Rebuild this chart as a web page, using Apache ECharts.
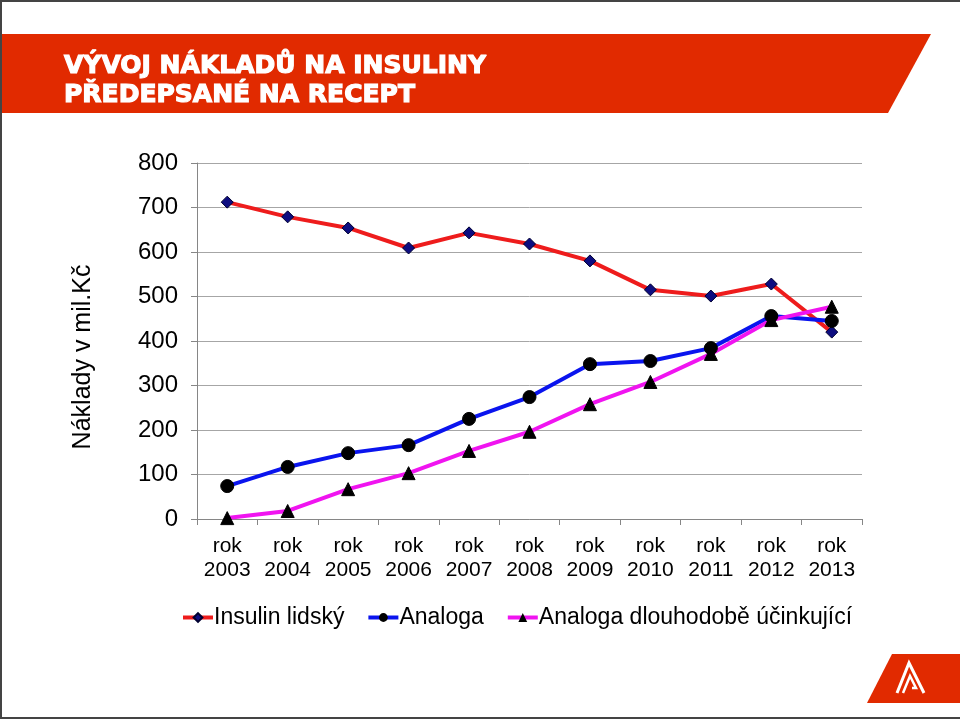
<!DOCTYPE html>
<html><head><meta charset="utf-8">
<script src="https://cdn.jsdelivr.net/npm/echarts@6/dist/echarts.min.js"></script>
<style>html,body{margin:0;padding:0;background:#fff}#c{width:960px;height:719px}</style>
</head><body><div id="c"></div>
<script>
var categories = ['rok\n2003','rok\n2004','rok\n2005','rok\n2006','rok\n2007','rok\n2008','rok\n2009','rok\n2010','rok\n2011','rok\n2012','rok\n2013'];
var insulinLidsky = [712, 679, 654, 609, 643, 618, 580, 515, 501, 528, 420];
var analoga = [74, 117, 148, 166, 225, 274, 348, 355, 384, 456, 445];
var analogaDlouhodobe = [2, 18, 67, 103, 153, 196, 258, 308, 371, 447, 477];
var yTicks = {min: 0, max: 800, interval: 100};
var titleLines = ['VÝVOJ NÁKLADŮ NA INSULINY', 'PŘEDEPSANÉ NA RECEPT'];
var yAxisTitle = 'Náklady v mil.Kč';

var chart = echarts.init(document.getElementById('c'), null, {renderer: 'canvas'});
var font = 'Liberation Sans, Arial, sans-serif';
chart.setOption({
  backgroundColor: '#fff',
  animation: false,
  grid: {left: 197, right: 98, top: 163, bottom: 200, containLabel: false},
  legend: {
    left: 176, top: 601, itemGap: 22, itemWidth: 30, itemHeight: 11,
    lineStyle: {width: 4},
    textStyle: {fontFamily: font, fontSize: 23, color: '#000', padding: [0,0,0,-4]},
    data: ['Insulin lidský', 'Analoga', 'Analoga dlouhodobě účinkující']
  },
  xAxis: {
    type: 'category', data: categories, boundaryGap: true,
    axisLine: {lineStyle: {color: '#868686', width: 1}},
    axisTick: {show: true, length: 6, interval: 0, lineStyle: {color: '#868686'}},
    axisLabel: {interval: 0, fontFamily: font, fontSize: 21, color: '#000', lineHeight: 24, margin: 15}
  },
  yAxis: {
    type: 'value', min: yTicks.min, max: yTicks.max, interval: yTicks.interval,
    axisLine: {show: true, lineStyle: {color: '#868686'}},
    axisTick: {show: true, length: 6, lineStyle: {color: '#868686'}},
    splitLine: {lineStyle: {color: '#a6a6a6', width: 1}},
    axisLabel: {fontFamily: font, fontSize: 24, color: '#000', margin: 19}
  },
  series: [
    {name: 'Insulin lidský', type: 'line', data: insulinLidsky,
     symbol: 'diamond', symbolSize: 12,
     lineStyle: {color: '#ee1c1c', width: 4}, itemStyle: {color: '#0d0d80', borderColor: '#000030', borderWidth: 1}, color: '#ee1c1c'},
    {name: 'Analoga', type: 'line', data: analoga,
     symbol: 'circle', symbolSize: 13,
     lineStyle: {color: '#0a14ee', width: 4}, itemStyle: {color: '#000', borderColor: '#000'}, color: '#0a14ee'},
    {name: 'Analoga dlouhodobě účinkující', type: 'line', data: analogaDlouhodobe,
     symbol: 'triangle', symbolSize: 13,
     lineStyle: {color: '#f014f0', width: 4}, itemStyle: {color: '#000', borderColor: '#000'}, color: '#f014f0'}
  ],
  graphic: [
    {type: 'polygon', shape: {points: [[0,34],[931,34],[888,113],[0,113]]}, style: {fill: '#e12a00'}, z: 0},
    {type: 'text', x: 64, y: 54, style: {text: titleLines[0], fill: '#fff', stroke: '#fff', lineWidth: 1.2, font: 'bold 25px DejaVu Sans, sans-serif'}},
    {type: 'text', x: 64, y: 83, style: {text: titleLines[1], fill: '#fff', stroke: '#fff', lineWidth: 1.2, font: 'bold 25px DejaVu Sans, sans-serif'}},
    {type: 'text', x: 83, y: 357, rotation: Math.PI / 2, style: {text: yAxisTitle, fill: '#000', font: '25px ' + font, align: 'center', verticalAlign: 'middle'}},
    {type: 'polygon', shape: {points: [[892,654],[960,654],[960,703],[867,703]]}, style: {fill: '#e12a00'}},
    {type: 'polyline', shape: {points: [[897,693],[909,663],[924,693]]}, style: {stroke: '#fff', lineWidth: 3, fill: null}},
    {type: 'polyline', shape: {points: [[903,693],[910,676],[916,688],[912,688]]}, style: {stroke: '#fff', lineWidth: 2.5, fill: null}},
    {type: 'line', shape: {x1: 0, y1: 1, x2: 960, y2: 1}, style: {stroke: '#444', lineWidth: 2}},
    {type: 'line', shape: {x1: 1, y1: 0, x2: 1, y2: 719}, style: {stroke: '#444', lineWidth: 2}},
    {type: 'line', shape: {x1: 0, y1: 718, x2: 960, y2: 718}, style: {stroke: '#444', lineWidth: 2}}
  ]
});
</script></body></html>
